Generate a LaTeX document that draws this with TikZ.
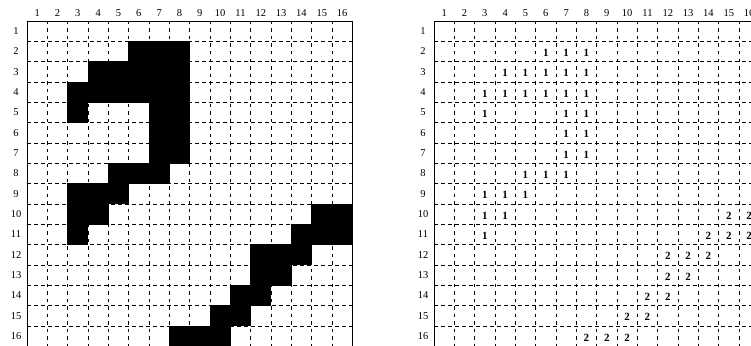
\documentclass[tikz,border=0pt]{standalone}
\usepackage{fontspec}
\setmainfont{Liberation Serif}
\begin{document}
\begin{tikzpicture}[x=1pt,y=-1pt,
  gridline/.style={dash pattern=on 4pt off 3pt, line width=0.6pt},
  vgridline/.style={dash pattern=on 3.5pt off 4pt, line width=0.6pt},
  border/.style={line width=0.9pt},
  lab/.style={font=\fontsize{10.5}{10.5}\selectfont, inner sep=0},
  num/.style={font=\fontsize{11}{11}\selectfont\bfseries, inner sep=0}]
\useasboundingbox (0,0) rectangle (751,345);
\def\cw{20.33}
\def\cells{2/6/1,2/7/1,2/8/1,3/4/1,3/5/1,3/6/1,3/7/1,3/8/1,4/3/1,4/4/1,4/5/1,4/6/1,4/7/1,4/8/1,5/3/1,5/7/1,5/8/1,6/7/1,6/8/1,7/7/1,7/8/1,8/5/1,8/6/1,8/7/1,9/3/1,9/4/1,9/5/1,10/3/1,10/4/1,11/3/1,10/15/2,10/16/2,11/14/2,11/15/2,11/16/2,12/12/2,12/13/2,12/14/2,13/12/2,13/13/2,14/11/2,14/12/2,15/10/2,15/11/2,16/8/2,16/9/2,16/10/2}
% grid lines
\foreach \k in {1,...,15} {
  \draw[gridline] (27,21+\k*\cw) -- (352.3,21+\k*\cw);
  \draw[vgridline] (27+\k*\cw,21) -- (27+\k*\cw,347);
  \draw[gridline] (434,21+\k*\cw) -- (760,21+\k*\cw);
  \draw[vgridline] (434+\k*\cw,21) -- (434+\k*\cw,347);
}
% black cells
\foreach \r/\cc/\v in \cells {
  \fill[black] (27+\cc*\cw-\cw-0.4,21+\r*\cw-\cw-0.4) rectangle (27+\cc*\cw+0.4,21+\r*\cw+0.4);
  \node[num] (n\r-\cc) at (434+\cc*\cw-0.5*\cw,21+\r*\cw-0.5*\cw+1.5) {\v};
}
% borders
\draw[border] (27,347) -- (27,21) -- (352.3,21) -- (352.3,347);
\draw[border] (434,347) -- (434,21) -- (760,21);
% labels
\foreach \i in {1,...,16} {
  \node[lab] (lc\i) at (27+\i*\cw-0.5*\cw,13.5) {\i};
  \node[lab] (lr\i) at (16,21+\i*\cw-0.5*\cw) {\i};
  \node[lab] (rc\i) at (434+\i*\cw-0.5*\cw,13.5) {\i};
  \node[lab] (rr\i) at (423,21+\i*\cw-0.5*\cw) {\i};
}
\end{tikzpicture}
\end{document}
